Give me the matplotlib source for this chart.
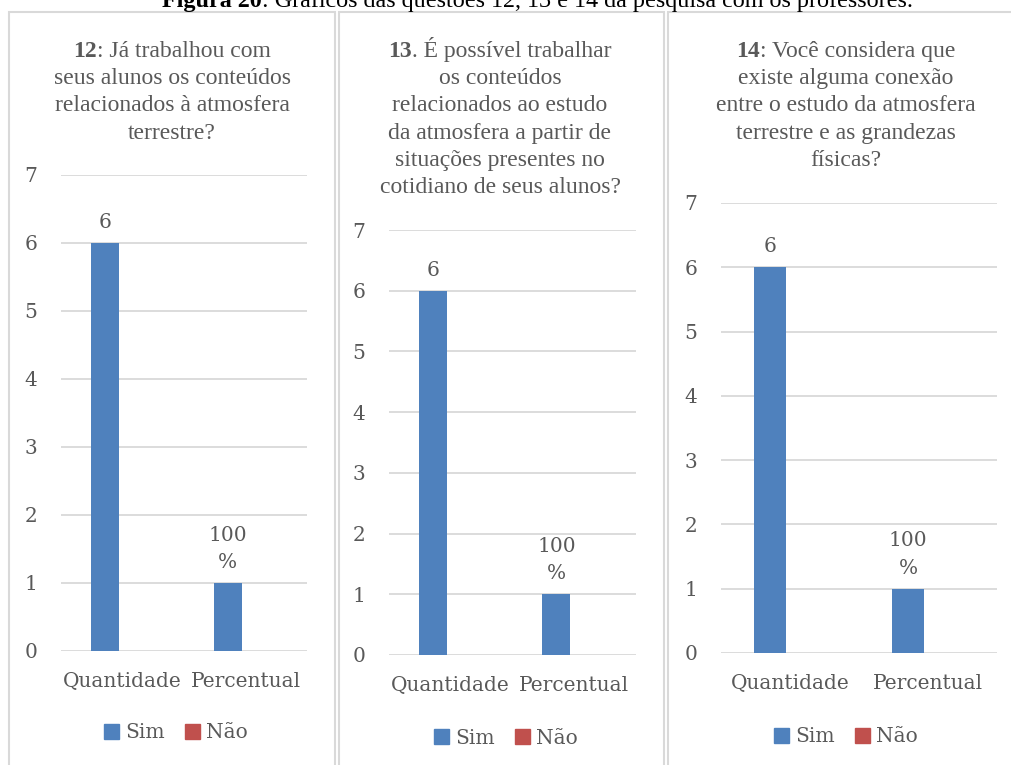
import matplotlib.pyplot as plt
from matplotlib.patches import Patch, Rectangle
import numpy as np

# survey answers (Sim / Não) for questions 12, 13 and 14
categories = ["Quantidade", "Percentual"]
series_names = ["Sim", "Não"]
sim_q12 = [6, 1.0]
nao_q12 = [0, 0]
sim_q13 = [6, 1.0]
nao_q13 = [0, 0]
sim_q14 = [6, 1.0]
nao_q14 = [0, 0]
value_fmt = ["{:.0f}", "{:.0%}"]

question_nums = ["12", "13", "14"]
question_text = [
    [": Já trabalhou com", "seus alunos os conteúdos", "relacionados à atmosfera",
     "terrestre?"],
    [". É possível trabalhar", "os conteúdos", "relacionados ao estudo",
     "da atmosfera a partir de", "situações presentes no", "cotidiano de seus alunos?"],
    [": Você considera que", "existe alguma conexão", "entre o estudo da atmosfera",
     "terrestre e as grandezas", "físicas?"],
]
caption_bold = "Figura 20"
caption_rest = ": Gráficos das questões 12, 13 e 14 da pesquisa com os professores."

BLUE = "#4F81BD"
RED = "#C0504D"
GRAY = "#595959"
GRID = "#d9d9d9"
TICKFONT = "DejaVu Serif"
SERIF = "Liberation Serif"

W, H = 1011, 765
fig = plt.figure(figsize=(W / 100, H / 100), dpi=100)
renderer = fig.canvas.get_renderer()


def mixed_line(x, y, bold, rest, size, color, align="center"):
    """Bold prefix followed by regular text on one baseline (pixel coords)."""
    t1 = fig.text(0, 1 - y / H, bold, weight="bold", fontsize=size,
                  family=SERIF, color=color, va="baseline", ha="left")
    t2 = fig.text(0, 1 - y / H, rest, fontsize=size, family=SERIF,
                  color=color, va="baseline", ha="left")
    w1 = t1.get_window_extent(renderer).width
    w2 = t2.get_window_extent(renderer).width
    x0 = x - (w1 + w2) / 2 if align == "center" else x - (w1 + w2)
    t1.set_x(x0 / W)
    t2.set_x((x0 + w1) / W)


# pixel layout: frame x-range, plot box (x0, x1, ytop, ybottom), title centre, legend y
panels = [
    dict(frame=(9, 335), box=(61, 307, 175, 651), tx=172, ly=733, sim=sim_q12, nao=nao_q12),
    dict(frame=(339, 664), box=(389, 636, 230, 655), tx=500, ly=738, sim=sim_q13, nao=nao_q13),
    dict(frame=(668, 1015), box=(721, 997, 203, 653), tx=846, ly=737, sim=sim_q14, nao=nao_q14),
]

mixed_line(913, 7, caption_bold, caption_rest, 17.4, "black", align="right")

x = np.arange(len(categories))
width = 0.226
offset = 0.145

for p, num, lines in zip(panels, question_nums, question_text):
    fx0, fx1 = p["frame"]
    fig.add_artist(Rectangle((fx0 / W, -0.05), (fx1 - fx0) / W, 1.05 - 12 / H,
                             transform=fig.transFigure, fill=False,
                             ec=GRID, lw=1.5))

    bx0, bx1, by0, by1 = p["box"]
    ax = fig.add_axes([bx0 / W, 1 - by1 / H, (bx1 - bx0) / W, (by1 - by0) / H])
    b1 = ax.bar(x - offset, p["sim"], width, color=BLUE, label=series_names[0], zorder=3)
    ax.bar(x + offset, p["nao"], width, color=RED, label=series_names[1], zorder=3)

    for rect, v, fmt in zip(b1, p["sim"], value_fmt):
        txt = fmt.format(v).replace("%", "\n%")
        ax.annotate(txt, (rect.get_x() + rect.get_width() / 2, v),
                    xytext=(0, 8), textcoords="offset points",
                    ha="center", va="bottom", fontsize=14.5, family=TICKFONT,
                    color=GRAY, linespacing=1.55)

    ax.set_xlim(-0.5, len(categories) - 0.5)
    ax.set_ylim(0, 7)
    ax.set_yticks(range(0, 8))
    ax.set_xticks(x)
    ax.set_xticklabels(categories)
    ax.yaxis.grid(True, color=GRID, lw=1.3, zorder=0)
    ax.set_axisbelow(True)
    for s in ax.spines.values():
        s.set_visible(False)
    ax.tick_params(axis="y", length=0, pad=17, labelsize=14.5, labelcolor=GRAY)
    ax.tick_params(axis="x", length=0, pad=15, labelsize=14.5, labelcolor=GRAY)
    for lab in ax.get_xticklabels() + ax.get_yticklabels():
        lab.set_family(TICKFONT)

    # question title, first line starts with the bold question number
    mixed_line(p["tx"], 57, num, lines[0], 17, GRAY)
    for i, line in enumerate(lines[1:], start=1):
        fig.text(p["tx"] / W, 1 - (57 + 27.2 * i) / H, line, ha="center",
                 va="baseline", fontsize=17, family=SERIF, color=GRAY)

    handles = [Patch(color=BLUE), Patch(color=RED)]
    fig.legend(handles, series_names, loc="center",
               bbox_to_anchor=((fx0 + fx1) / 2 / W + 0.004, 1 - p["ly"] / H),
               ncol=2, frameon=False, handlelength=0.75, handleheight=0.75,
               handletextpad=0.3, columnspacing=1.0,
               prop=dict(family=TICKFONT, size=14.5), labelcolor=GRAY)

fig.savefig("out.png", dpi=100)
